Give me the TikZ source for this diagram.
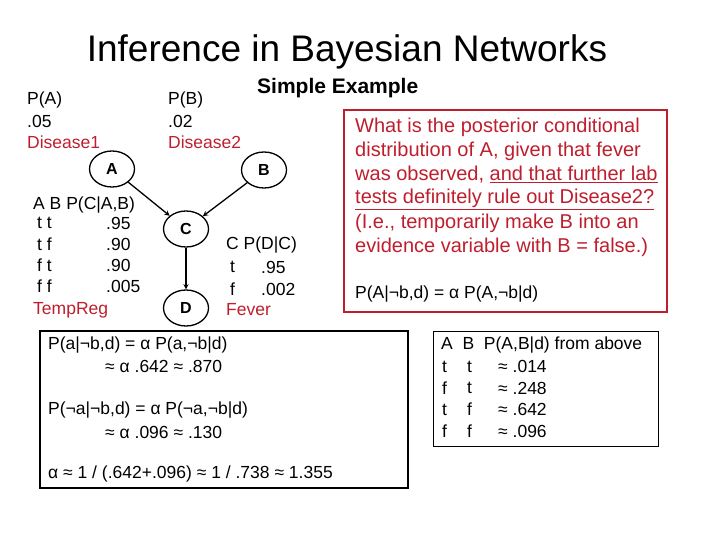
\documentclass[tikz,border=0pt]{standalone}
\usepackage{fontspec}
\setmainfont{Liberation Sans}
\usetikzlibrary{positioning,shapes.geometric}
\definecolor{darkred}{RGB}{190,30,45}
\tikzset{
    txt/.style={anchor=west, inner sep=0pt, font=\fontsize{17.5}{20}\selectfont},
    rtxt/.style={txt, text=darkred},
    qtxt/.style={txt, text=darkred, font=\fontsize{20}{24}\selectfont},
    var/.style={draw, line width=1.3pt, ellipse, minimum width=45pt, minimum height=36pt, inner sep=0pt, font=\fontsize{16}{18}\selectfont\bfseries},
    edge/.style={->, line width=1.3pt, >=stealth}
}
\begin{document}
\begin{tikzpicture}[x=1pt, y=-1pt]
    \useasboundingbox (0,0) rectangle (720,540);
    \node[inner sep=0pt, font=\fontsize{37}{40}\selectfont] (title) at (347,52) {Inference in Bayesian Networks};
    \node[txt, font=\fontsize{21}{24}\selectfont\bfseries] (sub) at (257,88) {Simple Example};

    % priors
    \node[txt] (pa) at (27,100) {P(A)};
    \node[txt] (pav) at (27,121) {.05};
    \node[rtxt] (d1) at (27,142) {Disease1};
    \node[txt] (pb) at (168,100) {P(B)};
    \node[txt] (pbv) at (168,121) {.02};
    \node[rtxt] (d2) at (168,142) {Disease2};

    % network
    \node[var] (A) at (112,169) {A};
    \node[var] (B) at (264,170) {B};
    \node[var] (C) at (186,229) {C};
    \node[var] (D) at (186,308) {D};
    \draw[edge] (A) -- (C);
    \draw[edge] (B) -- (C);
    \draw[edge] (C) -- (D);

    % CPT of C
    \node[txt] (cpth) at (33,205) {A B P(C|A,B)};
    \foreach \a/\b/\p [count=\i] in {t/t/.95, t/f/.90, f/t/.90, f/f/.005} {
        \node[txt] (cab\i) at (37,202+21*\i) {\a\ \b};
        \node[txt] (cpv\i) at (106,202+21*\i) {\p};
    }
    \node[rtxt] (treg) at (33,310) {TempReg};

    % CPT of D
    \node[txt] (dpth) at (226,245) {C P(D|C)};
    \node[txt] (dc1) at (230,267) {t};
    \node[txt] (dv1) at (261,267) {.95};
    \node[txt] (dc2) at (230,289) {f};
    \node[txt] (dv2) at (261,289) {.002};
    \node[rtxt] (fev) at (226,310) {Fever};

    % question
    \draw[darkred, very thick] (344,110) rectangle (667,312);
    \node[qtxt] (q1) at (355,127) {What is the posterior conditional};
    \node[qtxt] (q2) at (355,151) {distribution of A, given that fever};
    \node[qtxt] (q3) at (355,175) {was observed, \underline{and that further lab}};
    \node[qtxt] (q4) at (355,199) {\underline{tests definitely rule out Disease2?}};
    \node[qtxt] (q5) at (355,223) {(I.e., temporarily make B into an};
    \node[qtxt] (q6) at (355,247) {evidence variable with B = false.)};
    \node[txt] (q7) at (355,294) {P(A|¬b,d) = α P(A,¬b|d)};

    % answer
    \draw[line width=2.5pt] (40,331) rectangle (408,488);
    \node[txt] (r1) at (48,345) {P(a|¬b,d) = α P(a,¬b|d)};
    \node[txt] (r2) at (105,366) {≈ α .642 ≈ .870};
    \node[txt] (r3) at (48,410) {P(¬a|¬b,d) = α P(¬a,¬b|d)};
    \node[txt] (r4) at (105,432) {≈ α .096 ≈ .130};
    \node[txt] (r5) at (48,474) {α ≈ 1 / (.642+.096) ≈ 1 / .738 ≈ 1.355};

    % joint table
    \draw (433,331) rectangle (658,446);
    \node[txt] (jh) at (441,345) {A \ B \ P(A,B|d) from above};
    \foreach \a/\b/\p [count=\i] in {t/t/.014, f/t/.248, t/f/.642, f/f/.096} {
        \node[txt] (ja\i) at (442,345+21.5*\i) {\a};
        \node[txt] (jb\i) at (467,345+21.5*\i) {\b};
        \node[txt] (jp\i) at (498,345+21.5*\i) {≈ \p};
    }
\end{tikzpicture}
\end{document}
